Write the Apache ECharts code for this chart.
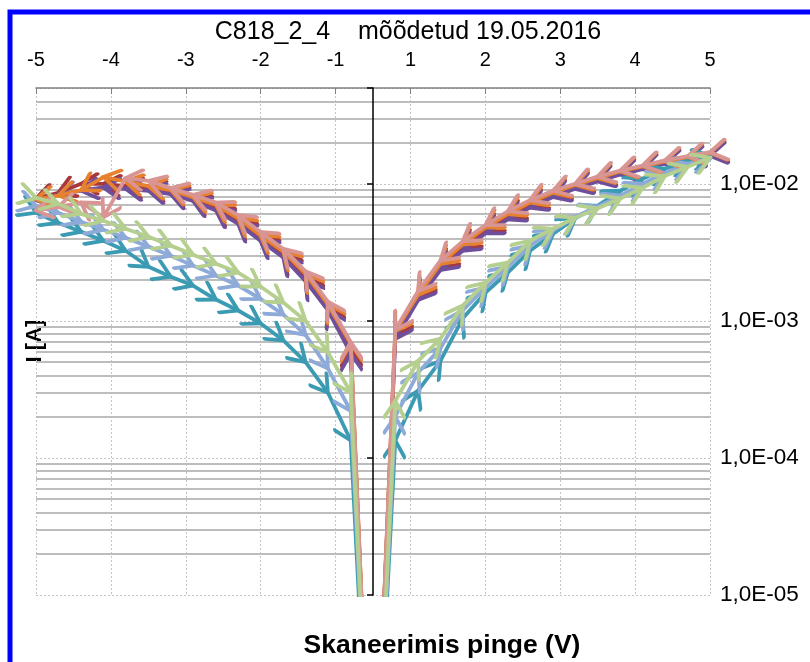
<!DOCTYPE html>
<html>
<head>
<meta charset="utf-8">
<title>C818_2_4</title>
<script src="https://cdn.jsdelivr.net/npm/echarts@6/dist/echarts.min.js"></script>
<style>
  html, body { margin: 0; padding: 0; background: #fff; }
  #chart { width: 810px; height: 662px; }
</style>
</head>
<body>
<div id="chart"></div>
<script>
// C818_2_4 - I-V sweeps, log current scale

const FONT = '"Liberation Sans", Arial, sans-serif';

// sweep voltages (V): +5 -> -5 and -5 -> +5
const voltDown = [5, 4.67, 4.33, 4, 3.67, 3.33, 3, 2.67, 2.33, 2, 1.67, 1.33, 1, 0.67, 0.33, 0,
  -0.33, -0.67, -1, -1.33, -1.67, -2, -2.33, -2.67, -3, -3.33, -3.67, -4, -4.33, -4.67, -5];
const voltUp = [-5, -4.67, -4.33, -4, -3.67, -3.33, -3, -2.67, -2.33, -2, -1.67, -1.33, -1, -0.67, -0.33, 0,
  0.33, 0.67, 1, 1.33, 1.67, 2, 2.33, 2.67, 3, 3.33, 3.67, 4, 4.33, 4.67, 5];

// measured currents (A)
const curRed = [1.63e-2, 1.52e-2, 1.42e-2, 1.30e-2, 1.19e-2, 1.06e-2, 9.4e-3, 8.2e-3, 6.9e-3, 5.7e-3, 4.5e-3, 3.4e-3, 2.45e-3, 1.48e-3, 7.8e-4, 1e-7,
  6.2e-4, 1.25e-3, 2.05e-3, 3.0e-3, 4.0e-3, 5.3e-3, 6.6e-3, 7.7e-3, 8.7e-3, 9.2e-3, 9.6e-3, 1.0e-2, 1.0e-2, 8.6e-3, 7.8e-3];
const curPurple = [1.60e-2, 1.50e-2, 1.40e-2, 1.28e-2, 1.17e-2, 1.04e-2, 9.2e-3, 8.0e-3, 6.7e-3, 5.5e-3, 4.35e-3, 3.25e-3, 2.35e-3, 1.42e-3, 7.4e-4, 1e-7,
  5.8e-4, 1.2e-3, 1.95e-3, 2.9e-3, 3.85e-3, 5.1e-3, 6.4e-3, 7.5e-3, 8.4e-3, 8.9e-3, 9.2e-3, 9.4e-3, 8.9e-3, 8.3e-3, 7.6e-3];
const curOrange = [1.68e-2, 1.57e-2, 1.46e-2, 1.34e-2, 1.23e-2, 1.10e-2, 9.8e-3, 8.6e-3, 7.3e-3, 6.0e-3, 4.8e-3, 3.6e-3, 2.6e-3, 1.55e-3, 8.4e-4, 1e-7,
  6.8e-4, 1.32e-3, 2.2e-3, 3.2e-3, 4.2e-3, 5.6e-3, 7.0e-3, 8.0e-3, 9.0e-3, 9.6e-3, 1.04e-2, 1.12e-2, 9.0e-3, 8.2e-3, 7.7e-3];
const curPink = [1.70e-2, 1.59e-2, 1.48e-2, 1.36e-2, 1.25e-2, 1.13e-2, 1.0e-2, 8.9e-3, 7.6e-3, 6.3e-3, 5.0e-3, 3.8e-3, 2.75e-3, 1.65e-3, 8.6e-4, 1e-7,
  7.0e-4, 1.38e-3, 2.3e-3, 3.35e-3, 4.45e-3, 5.9e-3, 7.3e-3, 8.3e-3, 9.3e-3, 1.05e-2, 1.1e-2, 5.7e-3, 7.3e-3, 6.8e-3, 6.4e-3];
const curTeal = [6.15e-3, 5.2e-3, 4.47e-3, 3.84e-3, 3.25e-3, 2.48e-3, 2.10e-3, 1.81e-3, 1.43e-3, 1.19e-3, 9.6e-4, 7.2e-4, 5.0e-4, 3.0e-4, 1.34e-4, 1e-7,
  1.34e-4, 3.1e-4, 5.1e-4, 1.04e-3, 1.61e-3, 2.25e-3, 3.25e-3, 4.3e-3, 5.6e-3, 6.9e-3, 8.9e-3, 1.09e-2, 1.29e-2, 1.47e-2, 1.60e-2];
const curBlue = [6.9e-3, 6.15e-3, 5.29e-3, 4.62e-3, 4.04e-3, 3.48e-3, 2.99e-3, 2.53e-3, 2.14e-3, 1.81e-3, 1.45e-3, 1.11e-3, 7.9e-4, 4.5e-4, 2.2e-4, 1e-7,
  2.0e-4, 4.2e-4, 6.3e-4, 1.19e-3, 1.75e-3, 2.48e-3, 3.54e-3, 4.55e-3, 5.75e-3, 6.8e-3, 8.2e-3, 1.0e-2, 1.2e-2, 1.4e-2, 1.52e-2];
const curGreen = [7.9e-3, 7.15e-3, 6.04e-3, 5.38e-3, 4.7e-3, 4.11e-3, 3.54e-3, 3.04e-3, 2.61e-3, 2.25e-3, 1.78e-3, 1.36e-3, 1.0e-3, 5.9e-4, 3.0e-4, 1e-7,
  2.6e-4, 5.1e-4, 7.4e-4, 1.29e-3, 1.9e-3, 2.66e-3, 3.84e-3, 4.7e-3, 5.65e-3, 6.6e-3, 7.8e-3, 9.35e-3, 1.14e-2, 1.33e-2, 1.55e-2];

// axis labels
const xTickLabels = ['-5', '-4', '-3', '-2', '-1', '1', '2', '3', '4', '5'];
const yTickLabels = ['1,0E-05', '1,0E-04', '1,0E-03', '1,0E-02'];
const minorGrid = [2e-5, 3e-5, 4e-5, 5e-5, 6e-5, 7e-5, 8e-5, 9e-5,
  2e-4, 3e-4, 4e-4, 5e-4, 6e-4, 7e-4, 8e-4, 9e-4,
  2e-3, 3e-3, 4e-3, 5e-3, 6e-3, 7e-3, 8e-3, 9e-3,
  2e-2, 3e-2, 4e-2];

const SERIES = [
  { color: '#a8383b', volt: voltDown, cur: curRed },
  { color: '#6f4f9b', volt: voltDown, cur: curPurple },
  { color: '#3b9bb3', volt: voltUp, cur: curTeal },
  { color: '#8eaad8', volt: voltUp, cur: curBlue },
  { color: '#e6822f', volt: voltDown, cur: curOrange },
  { color: '#d99593', volt: voltDown, cur: curPink },
  { color: '#b5cf8f', volt: voltUp, cur: curGreen },
];

// open chevron, vertex at the centre of its box
const ARROW = 'path://M0,0L16,10L0,20M32,10';

const chart = echarts.init(document.getElementById('chart'));

function yLabel(v) {
  const e = Math.log10(v);
  const r = Math.round(e);
  if (Math.abs(e - r) > 1e-6) return '';
  return yTickLabels[r + 5] || '';
}

const option = {
  animation: false,
  backgroundColor: '#fff',
  textStyle: { fontFamily: FONT },
  title: [
    {
      text: 'C818_2_4    mõõdetud 19.05.2016',
      left: 408, top: 20, padding: 0, textAlign: 'center',
      textStyle: { fontSize: 25, fontWeight: 'normal', color: '#000', fontFamily: FONT },
    },
    {
      text: 'Skaneerimis pinge (V)',
      left: 442, top: 632, padding: 0, textAlign: 'center',
      textStyle: { fontSize: 26.5, fontWeight: 'bold', color: '#000', fontFamily: FONT },
    },
  ],
  graphic: [
    {
      type: 'rect', silent: true, z: 100,
      shape: { x: 10, y: 12, width: 900, height: 800 },
      style: { fill: 'none', stroke: '#0000ff', lineWidth: 5 },
    },
    {
      type: 'text', silent: true, x: 35, y: 341, rotation: Math.PI / 2,
      style: { text: 'I [A]', font: 'bold 22px ' + FONT, fill: '#000', align: 'center', verticalAlign: 'middle' },
    },
  ],
  grid: { left: 36, right: 100, top: 88, bottom: 67, containLabel: false },
  xAxis: [
    { type: 'value', min: -5, max: 5, show: false },
    {
      type: 'category', data: xTickLabels, boundaryGap: false, position: 'top',
      axisLine: { onZero: false, lineStyle: { color: '#7f7f7f', width: 1.5 } },
      axisTick: { inside: true, length: 6, interval: 0, lineStyle: { color: '#7f7f7f' } },
      axisLabel: { interval: 0, margin: 18, fontSize: 20, color: '#000', fontFamily: FONT },
      splitLine: { show: true, interval: 0, lineStyle: { color: '#c4c4c4', type: [2, 2], width: 1 } },
    },
  ],
  yAxis: [
    {
      type: 'log', min: 1e-5, max: 0.05, position: 'right',
      axisLine: { show: false, onZero: false },
      axisTick: { show: false },
      axisLabel: { margin: 10, fontSize: 22.5, color: '#000', fontFamily: FONT, formatter: yLabel },
      splitLine: { show: true, lineStyle: { color: '#c4c4c4', type: [2, 2], width: 1 } },
    },
    {
      type: 'log', min: 1e-5, max: 0.05, position: 'left', z: 4,
      axisLine: { show: true, onZero: true, onZeroAxisIndex: 0, lineStyle: { color: '#000', width: 1.5 } },
      axisTick: { show: true, inside: false, length: 6, lineStyle: { color: '#000', width: 1.5 } },
      axisLabel: { show: false },
      splitLine: { show: false },
    },
  ],
  series: SERIES.map((s, i) => ({
    type: 'line',
    xAxisIndex: 0, yAxisIndex: 0,
    z: 5 + i,
    data: s.volt.map((v, k) => [v, s.cur[k]]),
    symbol: ARROW,
    symbolSize: [32, 20],
    lineStyle: { color: s.color, width: 3.8, cap: 'round', join: 'round' },
    itemStyle: { color: 'none', borderColor: s.color, borderWidth: 4, borderCap: 'round', borderJoin: 'round' },
    emphasis: { disabled: true },
    markLine: i === 0 ? {
      silent: true, z: 1, symbol: 'none', animation: false, precision: 12,
      label: { show: false },
      emphasis: { disabled: true },
      lineStyle: { color: '#bdbdbd', width: 2, type: 'solid' },
      data: minorGrid.map(v => [{ coord: [-5, v] }, { coord: [5, v] }]),
    } : undefined,
  })),
};

chart.setOption(option);

// point each chevron along its incoming segment, in screen space
const rotated = SERIES.map(s => {
  const pts = s.volt.map((v, k) => chart.convertToPixel({ xAxisIndex: 0, yAxisIndex: 0 }, [v, s.cur[k]]));
  return {
    data: s.volt.map((v, k) => {
      const a = pts[k > 0 ? k - 1 : 0];
      const b = pts[k > 0 ? k : 1];
      const deg = Math.atan2(a[1] - b[1], b[0] - a[0]) * 180 / Math.PI;
      return { value: [v, s.cur[k]], symbolRotate: deg };
    }),
  };
});
chart.setOption({ series: rotated });
window.addEventListener('resize', () => chart.resize());
</script>
</body>
</html>
